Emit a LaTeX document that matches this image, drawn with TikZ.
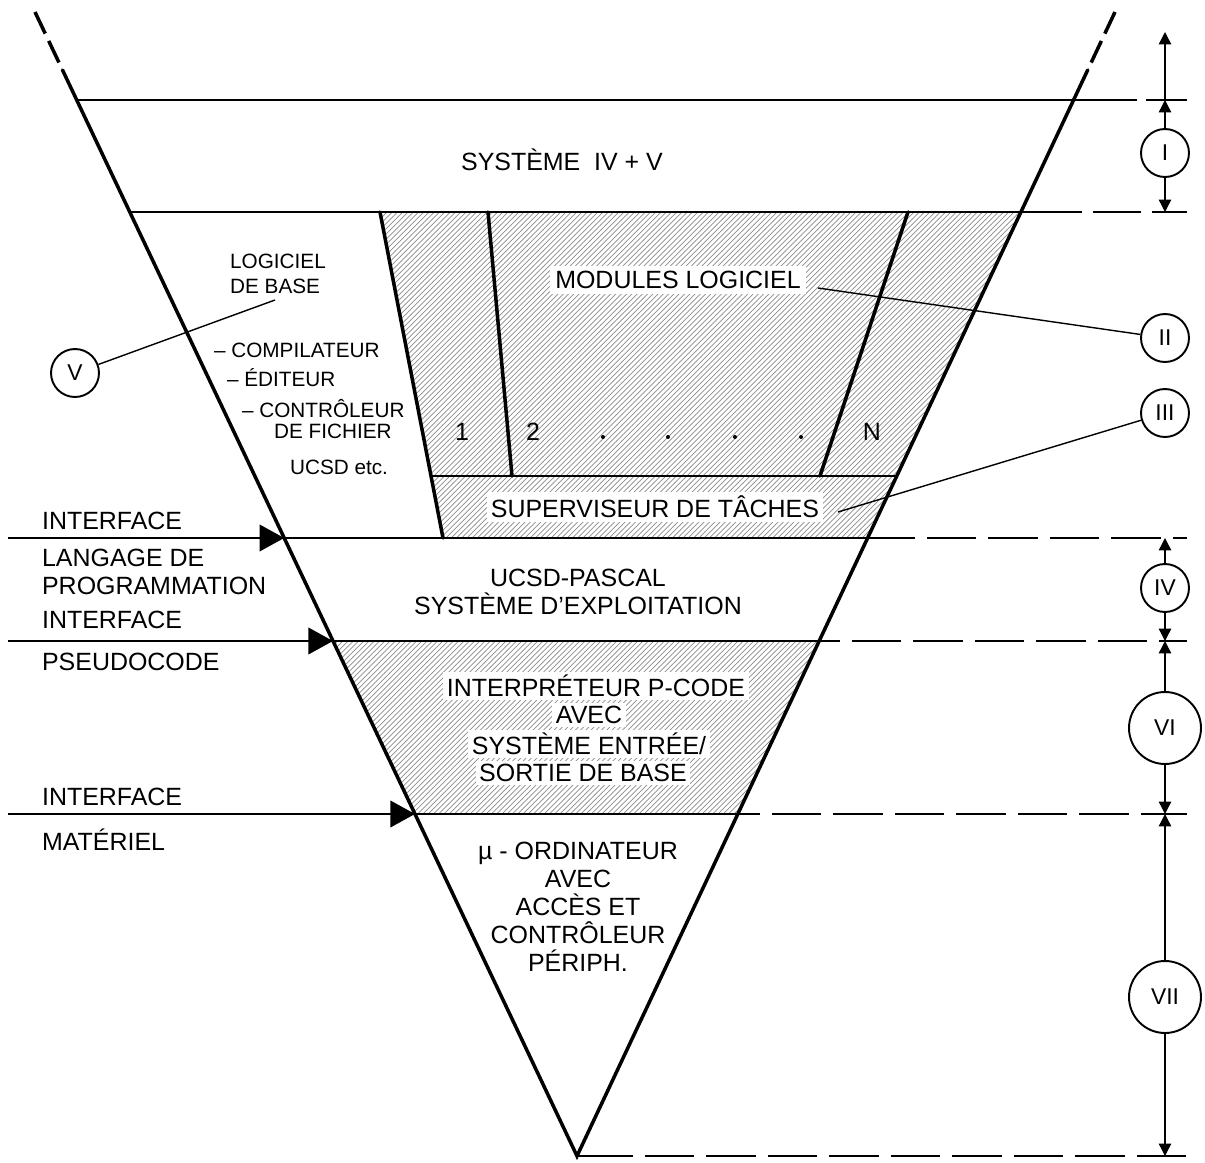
\documentclass[tikz,border=0pt]{standalone}
\usepackage{fontspec}
\setmainfont{Liberation Sans}
\usetikzlibrary{arrows.meta,patterns}

\tikzset{
  edge/.style={line width=2pt, line cap=round},
  level/.style={line width=1.6pt},
  tail/.style={line width=1.6pt, dash pattern=on 28pt off 7pt},
  edgedash/.style={line width=2pt, dash pattern=on 13.6pt off 4.6pt},
  dimline/.style={line width=0.8pt},
  hatch/.style={pattern=north east lines, pattern color=black!45},
  big/.style={font=\fontsize{14.2}{16.4}\selectfont, inner sep=1pt, align=center},
  small/.style={font=\fontsize{11.8}{14}\selectfont, inner sep=1pt},
  numb/.style={draw, circle, line width=1.1pt, inner sep=0pt, minimum size=0.96cm,
    font=\fontsize{13}{15}\selectfont},
  numbig/.style={numb, minimum size=1.44cm},
  tipin/.style={-{Triangle[length=14pt, width=15pt]}},
  tipdim/.style={-{Triangle[length=7pt, width=7pt]}}
}

\begin{document}
\begin{tikzpicture}[x=0.02cm,y=-0.02cm]
\useasboundingbox (0,0) rectangle (1205,1163);

% funnel edges
\coordinate (lt) at (35,12);
\coordinate (ls) at (62.5,70);
\coordinate (rt) at (1115,12);
\coordinate (rs) at (1087.7,70);
\coordinate (vx) at (577,1156);

% crossings of the levels with the funnel
\coordinate (l100) at (76.7,100);
\coordinate (l212) at (129.8,212);
\coordinate (l538) at (284.2,538);
\coordinate (l641) at (333,641);
\coordinate (l814) at (415,814);
\coordinate (r212) at (1020.9,212);
\coordinate (r476) at (896.8,476);
\coordinate (r538) at (867.6,538);
\coordinate (r641) at (819.2,641);
\coordinate (r814) at (737.8,814);

% modules block
\coordinate (m0) at (380,212);
\coordinate (m1) at (443,538);
\coordinate (s0) at (431,476);
\coordinate (a0) at (488,212);
\coordinate (a1) at (512,476);
\coordinate (b0) at (908,212);
\coordinate (b1) at (820,476);

% hatched parts
\fill[hatch] (m0) -- (m1) -- (r538) -- (r212) -- cycle;
\fill[hatch] (l641) -- (r641) -- (r814) -- (l814) -- cycle;

% funnel
\draw[edgedash] (lt) -- (ls);
\draw[edge] (ls) -- (vx) -- (rs);
\draw[edgedash] (rt) -- (rs);

% levels
\draw[level] (l100) -- (1137,100);
\draw[level] (1146,100) -- (1187,100);
\draw[level] (l212) -- (1082,212);
\draw[level] (1093,212) -- (1141,212);
\draw[level] (1152,212) -- (1187,212);

\draw[level, tipin] (8,538) -- (l538);
\draw[level] (l538) -- (915,538);
\draw[tail] (927,538) -- (1187,538);

\draw[level, tipin] (8,641) -- (l641);
\draw[level] (l641) -- (840,641);
\draw[tail] (852,641) -- (1187,641);

\draw[level, tipin] (8,814) -- (l814);
\draw[level] (l814) -- (760,814);
\draw[tail] (772,814) -- (1187,814);

\draw[level] (vx) -- (633,1156);
\draw[tail] (645,1156) -- (1187,1156);

% inner walls
\draw[edge] (m0) -- (m1);
\draw[edge] (a0) -- (a1);
\draw[edge] (b0) -- (b1);
\draw[level] (s0) -- (r476);

% texts
\node[big] (sys) at (562,160) {SYSTÈME\ \ IV + V};
\node[small, align=left] (base) at (278,274) {LOGICIEL\\DE BASE};
\node[small, anchor=west] (comp) at (212,350) {– COMPILATEUR};
\node[small, anchor=west] (edit) at (225,378) {– ÉDITEUR};
\node[small, anchor=west] (ctrl) at (240,409) {– CONTRÔLEUR};
\node[small, anchor=west] (fich) at (272,431) {DE FICHIER};
\node[small, anchor=west] (etc) at (288,467) {UCSD etc.};

\node[big, fill=white, inner sep=3pt] (mods) at (678,280) {MODULES LOGICIEL};
\node[big] (n1) at (462,432) {1};
\node[big] (n2) at (533,432) {2};
\node[big] (nn) at (872,432) {N};
\foreach \x in {603,668,735,801}
  \fill (\x,437) circle (2);
\node[big, fill=white, inner sep=2pt] (sup) at (655,507) {SUPERVISEUR DE TÂCHES};

\node[big] (pas) at (578,592) {UCSD-PASCAL\\SYSTÈME D'EXPLOITATION};

\node[big, fill=white, inner sep=2pt] (ip1) at (596,686) {INTERPRÉTEUR P-CODE};
\node[big, fill=white, inner sep=2pt] (ip2) at (589,715) {AVEC};
\node[big, fill=white, inner sep=2pt] (ip3) at (589,744) {SYSTÈME ENTRÉE/};
\node[big, fill=white, inner sep=2pt] (ip4) at (583,773) {SORTIE DE BASE};

\node[big, font=\fontsize{14.2}{15.9}\selectfont] (mic) at (578,907)
  {µ - ORDINATEUR\\AVEC\\ACCÈS ET\\CONTRÔLEUR\\PÉRIPH.};

% interface labels
\node[big, anchor=west] (if1) at (40,521) {INTERFACE};
\node[big, anchor=west, align=left] (lan) at (40,572) {LANGAGE DE\\PROGRAMMATION};
\node[big, anchor=west] (if2) at (40,620) {INTERFACE};
\node[big, anchor=west] (pse) at (40,662) {PSEUDOCODE};
\node[big, anchor=west] (if3) at (40,797) {INTERFACE};
\node[big, anchor=west] (mat) at (40,840) {MATÉRIEL};

% callouts
\node[numb] (cV) at (75,373) {V};
\node[numb] (cII) at (1165,338) {II};
\node[numb] (cIII) at (1165,413) {III};
\coordinate (eV) at (275,300);
\coordinate (eII) at (818,288);
\coordinate (eIII) at (838,512);
\draw[dimline] (cV) -- (eV);
\draw[dimline] (cII) -- (eII);
\draw[dimline] (cIII) -- (eIII);

% layer ranges
\coordinate (dtop) at (1165,32);
\coordinate (d0) at (1165,100);
\coordinate (d1) at (1165,212);
\coordinate (d2) at (1165,538);
\coordinate (d3) at (1165,641);
\coordinate (d4) at (1165,814);
\coordinate (d5) at (1165,1156);
\node[numb] (rI) at (1165,153) {I};
\node[numb] (rIV) at (1165,588) {IV};
\node[numbig] (rVI) at (1165,728) {VI};
\node[numbig] (rVII) at (1165,997) {VII};
\draw[dimline, tipdim] (d0) -- (dtop);
\draw[dimline, tipdim] (rI) -- (d0);
\draw[dimline, tipdim] (rI) -- (d1);
\draw[dimline, tipdim] (rIV) -- (d2);
\draw[dimline, tipdim] (rIV) -- (d3);
\draw[dimline, tipdim] (rVI) -- (d3);
\draw[dimline, tipdim] (rVI) -- (d4);
\draw[dimline, tipdim] (rVII) -- (d4);
\draw[dimline, tipdim] (rVII) -- (d5);

\end{tikzpicture}
\end{document}
